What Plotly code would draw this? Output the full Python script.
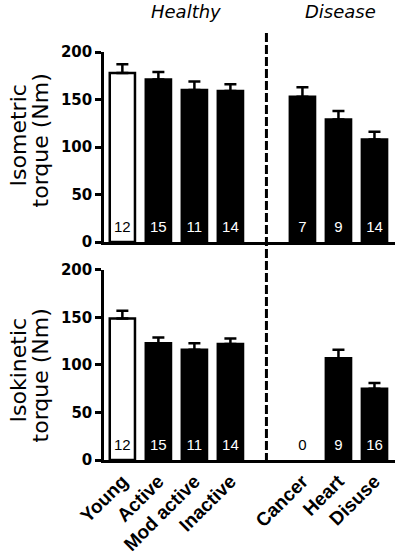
import plotly.graph_objects as go

healthy = ["Young", "Active", "Mod active", "Inactive"]
disease = ["Cancer", "Heart", "Disuse"]

isometric_mean = [178, 171, 160, 159, 153, 129, 108]
isometric_sem = [9, 8, 9, 7, 10, 9, 8]
isometric_n = [12, 15, 11, 14, 7, 9, 14]

isokinetic_mean = [149, 123, 116, 122, None, 107, 75]
isokinetic_sem = [8, 6, 7, 6, None, 9, 6]
isokinetic_n = [12, 15, 11, 14, 0, 9, 16]

y_ticks = [0, 50, 100, 150, 200]

categories = healthy + disease
# x positions: a one-slot gap between the two groups
xpos = list(range(len(healthy))) + [len(healthy) + 1 + i for i in range(len(disease))]
divider_x = len(healthy)
bar_colors = ["white"] + ["black"] * (len(categories) - 1)

FONT_TICK = dict(family="DejaVu Sans", size=15, color="black", weight="bold")
FONT_CAT = dict(family="Liberation Sans", size=19, color="black", weight="bold")

fig = go.Figure()

def add_panel(means, sems, ns, xa, ya):
    fig.add_trace(go.Bar(
        x=xpos, y=means, width=0.7,
        marker=dict(color=bar_colors, line=dict(color="black", width=2.5)),
        error_y=dict(type="data", array=sems, arrayminus=[0] * len(sems), symmetric=False,
                     color="black", thickness=2.5, width=6),
        xaxis=xa, yaxis=ya, showlegend=False, hoverinfo="skip",
    ))
    txt_colors = []
    for m, c in zip(means, bar_colors):
        txt_colors.append("white" if (m is not None and c == "black") else "black")
    fig.add_trace(go.Scatter(
        x=xpos, y=[14] * len(xpos), mode="text", text=[str(n) for n in ns],
        textposition="middle center",
        textfont=dict(family="Liberation Sans", size=15, color=txt_colors),
        xaxis=xa, yaxis=ya, showlegend=False, hoverinfo="skip",
    ))

add_panel(isometric_mean, isometric_sem, isometric_n, "x", "y")
add_panel(isokinetic_mean, isokinetic_sem, isokinetic_n, "x2", "y2")

xr = [-0.51, 7.57]
yaxis_common = dict(range=[0, 200], tickvals=y_ticks, showline=True, linecolor="black",
                    linewidth=2.5, ticks="outside", ticklen=6, tickwidth=2.5,
                    tickcolor="black", tickfont=FONT_TICK, showgrid=False, zeroline=False,
                    fixedrange=True, automargin=False)
fig.update_layout(
    width=397, height=558, autosize=False,
    margin=dict(l=104, r=2, t=52, b=98),
    plot_bgcolor="white", paper_bgcolor="white",
    bargap=0.3,
    xaxis=dict(domain=[0, 1], range=xr, anchor="y", showline=True, linecolor="black",
               linewidth=2.5, ticks="", showticklabels=False, showgrid=False, zeroline=False,
               fixedrange=True, automargin=False),
    yaxis=dict(domain=[0.5343, 1], anchor="x", **yaxis_common),
    xaxis2=dict(domain=[0, 1], range=xr, anchor="y2", showline=True, linecolor="black",
                linewidth=2.5, ticks="", tickvals=xpos, ticktext=categories,
                tickangle=-45, tickfont=FONT_CAT, showgrid=False, zeroline=False,
                fixedrange=True, automargin=False),
    yaxis2=dict(domain=[0, 0.4657], anchor="x2", **yaxis_common),
)

# dashed divider between groups
fig.add_shape(type="line", xref="x2", yref="paper", x0=divider_x, x1=divider_x,
              y0=-0.005, y1=1.0515, line=dict(color="black", width=3, dash="9px,3px"))

# group headers
for label, xc in [("Healthy", 1.78), ("Disease", 6.06)]:
    fig.add_annotation(text=label, xref="x", yref="paper", x=xc, y=1.0985,
                       xanchor="center", yanchor="middle", showarrow=False,
                       font=dict(family="DejaVu Sans", size=18, color="black", style="italic"))

# y axis titles (two lines each)
FONT_TITLE = dict(family="DejaVu Sans", size=22, color="black")
for text, x, y in [("Isometric", -0.2907, 0.7966), ("torque (Nm)", -0.2186, 0.7843),
                   ("Isokinetic", -0.2907, 0.2206), ("torque (Nm)", -0.2186, 0.2083)]:
    fig.add_annotation(text=text, xref="paper", yref="paper", x=x, y=y, textangle=-90,
                       xanchor="center", yanchor="middle", showarrow=False, font=FONT_TITLE)

fig.write_html("out.html",
               config={"displayModeBar": False, "responsive": False},
               post_script="document.body.style.margin='0';document.body.style.overflow='hidden';")
